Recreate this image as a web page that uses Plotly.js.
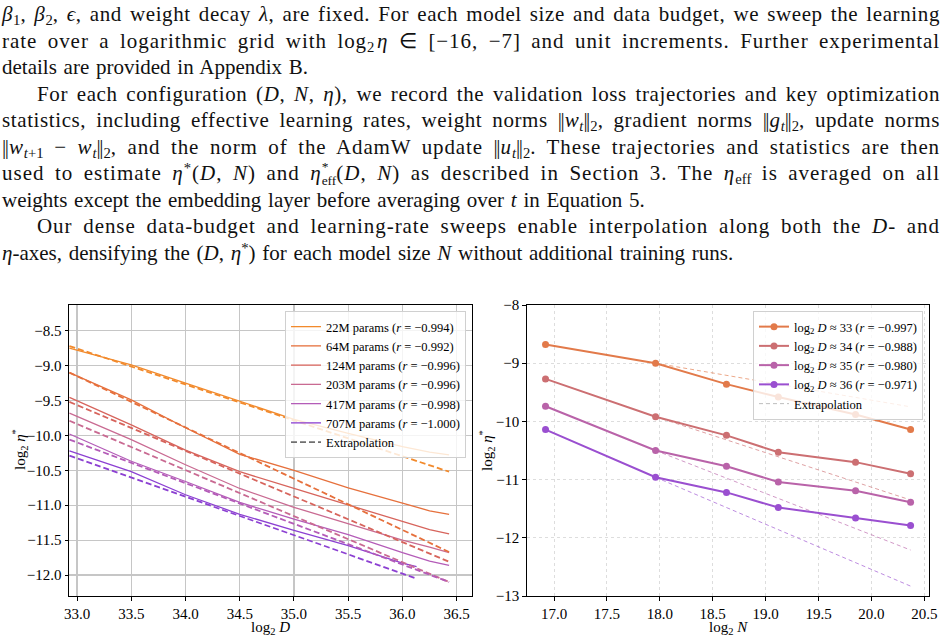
<!DOCTYPE html>
<html>
<head>
<meta charset="utf-8">
<script src="https://cdn.plot.ly/plotly-3.0.1.min.js"></script>
<style>
  html, body { margin: 0; padding: 0; background: #fff; width: 949px; height: 638px; overflow: hidden; }
  #chart { position: absolute; left: 0; top: 0; width: 949px; height: 638px; }
  #text { position: absolute; left: 0; top: 0; width: 949px; height: 285px;
          font-family: "Liberation Serif", "Times New Roman", serif; font-size: 21px; color: #111; }
  .ln { position: absolute; left: 2px; height: 26px; line-height: 26px; white-space: nowrap; }
  .ln.ind { left: 37px; }
  .sb { font-size: 70%; vertical-align: -0.25em; line-height: 0; letter-spacing: 0; }
  .sp { font-size: 70%; vertical-align: 0.45em; line-height: 0; }
  .ss { display: inline-block; vertical-align: -0.4em; font-size: 64%; line-height: 1.05; text-align: left; letter-spacing: 0; }
  .ss span { display: block; }
  .nb { letter-spacing: -1.5px; margin-right: 1.5px; }
</style>
</head>
<body>
<div id="chart"></div>
<div id="text">
  <div class="ln" data-w="938" style="top:1px"><i>β</i><span class="sb">1</span>, <i>β</i><span class="sb">2</span>, <i>ϵ</i>, and weight decay <i>λ</i>, are fixed. For each model size and data budget, we sweep the learning</div>
  <div class="ln" data-w="938" style="top:27.5px">rate over a logarithmic grid with log<span class="sb">2</span>&#8202;<i>η</i> ∈ [−16, −7] and unit increments. Further experimental</div>
  <div class="ln" style="top:54px">details are provided in Appendix B.</div>
  <div class="ln ind" data-w="903" style="top:80.5px">For each configuration (<i>D</i>, <i>N</i>, <i>η</i>), we record the validation loss trajectories and key optimization</div>
  <div class="ln" data-w="938" style="top:107px">statistics, including effective learning rates, weight norms <span class="nb">||</span><i>w</i><span class="sb"><i>t</i></span><span class="nb">||</span><span class="sb">2</span>, gradient norms <span class="nb">||</span><i>g</i><span class="sb"><i>t</i></span><span class="nb">||</span><span class="sb">2</span>, update norms</div>
  <div class="ln" data-w="938" style="top:133.5px"><span class="nb">||</span><i>w</i><span class="sb"><i>t</i>+1</span> − <i>w</i><span class="sb"><i>t</i></span><span class="nb">||</span><span class="sb">2</span>, and the norm of the AdamW update <span class="nb">||</span><i>u</i><span class="sb"><i>t</i></span><span class="nb">||</span><span class="sb">2</span>. These trajectories and statistics are then</div>
  <div class="ln" data-w="938" style="top:160px">used to estimate <i>η</i><span class="sp">*</span>(<i>D</i>, <i>N</i>) and <i>η</i><span class="ss"><span>*</span><span>eff</span></span>(<i>D</i>, <i>N</i>) as described in Section 3. The <i>η</i><span class="sb">eff</span> is averaged on all</div>
  <div class="ln" style="top:186.5px">weights except the embedding layer before averaging over <i>t</i> in Equation 5.</div>
  <div class="ln ind" data-w="903" style="top:213px">Our dense data-budget and learning-rate sweeps enable interpolation along both the <i>D</i>- and</div>
  <div class="ln" style="top:239.5px"><i>η</i>-axes, densifying the (<i>D</i>, <i>η</i><span class="sp">*</span>) for each model size <i>N</i> without additional training runs.</div>
</div>
<script>
// Paragraph typesetting: spread justified lines to full measure with a mix of
// letter- and word-spacing; ragged last lines keep natural letter-spacing.
(function typeset() {
  const MAX_LS = 1.0;
  document.querySelectorAll('#text .ln').forEach(el => {
    const txt = el.textContent;
    const nChars = txt.length;
    const nSpaces = (txt.match(/ /g) || []).length;
    const target = el.dataset.w ? parseFloat(el.dataset.w) : null;
    el.style.letterSpacing = '0px';
    el.style.wordSpacing = '0px';
    if (!target) {
      el.style.wordSpacing = '1.5px';
      return;
    }
    const w0 = el.getBoundingClientRect().width;
    const extra = target - w0;
    const ls = Math.max(-0.6, Math.min(MAX_LS, extra * 0.6 / nChars));
    el.style.letterSpacing = ls + 'px';
    const w1 = el.getBoundingClientRect().width;
    el.style.wordSpacing = ((target - w1) / Math.max(1, nSpaces)) + 'px';
  });
})();

// ---- Left panel: optimal learning rate vs. data budget, per model size ----
const logD    = [32.93, 33.5, 34.0, 34.5, 35.0, 35.5, 36.0, 36.25, 36.43];
const eta22M  = [-8.75, -8.99, -9.25, -9.51, -9.77, -9.97, -10.16, -10.24, -10.28];
const eta64M  = [-9.10, -9.49, -9.89, -10.27, -10.50, -10.75, -10.97, -11.08, -11.13];
const eta124M = [-9.455, -9.85, -10.21, -10.52, -10.76, -11.00, -11.23, -11.35, -11.41];
const eta203M = [-9.68, -10.06, -10.42, -10.76, -11.03, -11.27, -11.50, -11.60, -11.68];
const eta417M = [-9.98, -10.37, -10.66, -10.96, -11.20, -11.42, -11.68, -11.80, -11.86];
const logD707 = [32.93, 33.5, 34.0, 34.5, 35.0, 35.5, 36.0, 36.13];
const eta707M = [-10.22, -10.52, -10.85, -11.13, -11.36, -11.58, -11.83, -11.88];

// fitted power-law extrapolations (straight in log-log space)
const extD     = [32.93, 36.43];
const ext22M   = [-8.72, -10.52];
const ext64M   = [-9.10, -11.67];
const ext124M  = [-9.52, -11.81];
const ext203M  = [-9.79, -12.10];
const ext417M  = [-10.06, -12.10];
const extD707  = [32.93, 36.13];
const ext707M  = [-10.29, -12.05];

const sizeLabels = ['22M', '64M', '124M', '203M', '417M', '707M'];
const sizeR      = ['−0.994', '−0.992', '−0.996', '−0.996', '−0.998', '−1.000'];
const sizeColors = ['#f28a2c', '#e6703c', '#d7645c', '#c96a92', '#b45cb8', '#8c40d2'];

// ---- Right panel: optimal learning rate vs. model size, per data budget ----
const logN   = [16.92, 17.96, 18.63, 19.12, 19.85, 20.37];
const etaD33 = [-8.68, -9.00, -9.36, -9.58, -9.88, -10.14];
const etaD34 = [-9.27, -9.92, -10.24, -10.53, -10.70, -10.90];
const etaD35 = [-9.74, -10.50, -10.77, -11.04, -11.19, -11.39];
const etaD36 = [-10.14, -10.96, -11.22, -11.48, -11.66, -11.79];
const extN    = [17.96, 20.37];
const extD33  = [-9.00, -9.75];
const extD34  = [-9.92, -11.35];
const extD35  = [-10.50, -12.21];
const extD36  = [-10.96, -12.83];

const budgetLabels = ['33', '34', '35', '36'];
const budgetR      = ['−0.997', '−0.988', '−0.980', '−0.971'];
const budgetColors = ['#e27a4a', '#cc6f72', '#b963a9', '#9a4fd0'];

const SERIF = '"Liberation Serif", "Times New Roman", serif';

const traces = [];

// left: measured curves
const leftX = [logD, logD, logD, logD, logD, logD707];
const leftY = [eta22M, eta64M, eta124M, eta203M, eta417M, eta707M];
leftY.forEach((ys, i) => {
  traces.push({
    x: leftX[i], y: ys, xaxis: 'x', yaxis: 'y', mode: 'lines', type: 'scatter',
    line: { color: sizeColors[i], width: 1.3 },
    name: sizeLabels[i] + ' params (<i>r</i> = ' + sizeR[i] + ')',
    legend: 'legend'
  });
});
traces.push({
  x: [null], y: [null], xaxis: 'x', yaxis: 'y', mode: 'lines', type: 'scatter',
  line: { color: '#707070', width: 1.8, dash: '6px,3px' },
  name: 'Extrapolation', legend: 'legend'
});
const extLX = [extD, extD, extD, extD, extD, extD707];
const extLY = [ext22M, ext64M, ext124M, ext203M, ext417M, ext707M];
extLY.forEach((ys, i) => {
  traces.push({
    x: extLX[i], y: ys, xaxis: 'x', yaxis: 'y', mode: 'lines', type: 'scatter',
    line: { color: sizeColors[i], width: 1.8, dash: '6px,3px' },
    showlegend: false, hoverinfo: 'skip'
  });
});

// right: extrapolations underneath, then the measured points
const extRY = [extD33, extD34, extD35, extD36];
extRY.forEach((ys, i) => {
  traces.push({
    x: extN, y: ys, xaxis: 'x2', yaxis: 'y2', mode: 'lines', type: 'scatter',
    line: { color: budgetColors[i], width: 1, dash: '4px,3px' }, opacity: 0.65,
    showlegend: false, hoverinfo: 'skip'
  });
});
const rightY = [etaD33, etaD34, etaD35, etaD36];
rightY.forEach((ys, i) => {
  traces.push({
    x: logN, y: ys, xaxis: 'x2', yaxis: 'y2', mode: 'lines+markers', type: 'scatter',
    line: { color: budgetColors[i], width: 2 },
    marker: { color: budgetColors[i], size: 7 },
    name: 'log<sub>2</sub> <i>D</i> ≈ ' + budgetLabels[i] + ' (<i>r</i> = ' + budgetR[i] + ')',
    legend: 'legend2', legendrank: i + 1
  });
});
traces.push({
  x: [null], y: [null], xaxis: 'x2', yaxis: 'y2', mode: 'lines', type: 'scatter',
  line: { color: '#bdbdbd', width: 1, dash: '4px,3px' },
  name: 'Extrapolation', legend: 'legend2', legendrank: 5
});

const W = 949, H = 638;
const yDom = [1 - 596 / H, 1 - 305 / H];

const baseAxis = {
  showline: true, mirror: true, linecolor: '#000', linewidth: 1,
  ticks: 'outside', ticklen: 3.5, tickcolor: '#000', tickwidth: 1,
  zeroline: false, showgrid: true,
  tickfont: { family: SERIF, size: 15, color: '#000' }
};

// axis titles placed as paper annotations
const titleFont = { family: SERIF, size: 15, color: '#000' };
const axisTitles = [
  { text: 'log<sub>2</sub> <i>D</i>', x: 270, y: 627.5, angle: 0 },
  { text: 'log<sub>2</sub> <i>N</i>', x: 728, y: 627.5, angle: 0 },
  { text: 'log<sub>2</sub> <i>η</i><sup>*</sup>', x: 20, y: 450, angle: -90 },
  { text: 'log<sub>2</sub> <i>η</i><sup>*</sup>', x: 487, y: 450, angle: -90 }
];

const layout = {
  width: W, height: H,
  margin: { l: 0, r: 0, t: 0, b: 0 },
  paper_bgcolor: 'rgba(0,0,0,0)', plot_bgcolor: '#fff',
  font: { family: SERIF, color: '#000' },
  xaxis: Object.assign({}, baseAxis, {
    domain: [69 / W, 472 / W], range: [32.926, 36.641], anchor: 'y',
    tickvals: [33, 33.5, 34, 34.5, 35, 35.5, 36, 36.5], tickformat: '.1f',
    gridcolor: '#c6c6c6', gridwidth: 1.3
  }),
  yaxis: Object.assign({}, baseAxis, {
    domain: yDom, range: [-12.30, -8.132], anchor: 'x',
    tickvals: [-12, -11.5, -11, -10.5, -10, -9.5, -9, -8.5], tickformat: '.1f',
    gridcolor: '#c6c6c6', gridwidth: 1.3
  }),
  xaxis2: Object.assign({}, baseAxis, {
    domain: [526.7 / W, 929.3 / W], range: [16.742, 20.547], anchor: 'y2',
    tickvals: [17, 17.5, 18, 18.5, 19, 19.5, 20, 20.5], tickformat: '.1f',
    gridcolor: '#d4d4d4', gridwidth: 0.8, griddash: 'dot'
  }),
  yaxis2: Object.assign({}, baseAxis, {
    domain: yDom, range: [-13, -8], anchor: 'x2',
    tickvals: [-13, -12, -11, -10, -9, -8], tickformat: 'd',
    gridcolor: '#d4d4d4', gridwidth: 0.8, griddash: 'dot'
  }),
  annotations: axisTitles.map(t => ({
    text: t.text, xref: 'paper', yref: 'paper', x: t.x / W, y: 1 - t.y / H,
    xanchor: 'center', yanchor: 'middle', showarrow: false, textangle: t.angle,
    font: titleFont, borderpad: 0
  })),
  legend: {
    x: 466 / W, xanchor: 'right', y: 1 - 311 / H, yanchor: 'top',
    bgcolor: 'rgba(255,255,255,0.8)', bordercolor: '#d0d0d0', borderwidth: 1,
    font: { family: SERIF, size: 12.5, color: '#000' }, itemwidth: 30, tracegroupgap: 0
  },
  legend2: {
    x: 923 / W, xanchor: 'right', y: 1 - 311 / H, yanchor: 'top',
    bgcolor: 'rgba(255,255,255,0.8)', bordercolor: '#d0d0d0', borderwidth: 1,
    font: { family: SERIF, size: 12.5, color: '#000' }, itemwidth: 30, tracegroupgap: 0
  },
  showlegend: true
};

Plotly.newPlot('chart', traces, layout, { displayModeBar: false, staticPlot: true });
</script>
</body>
</html>
